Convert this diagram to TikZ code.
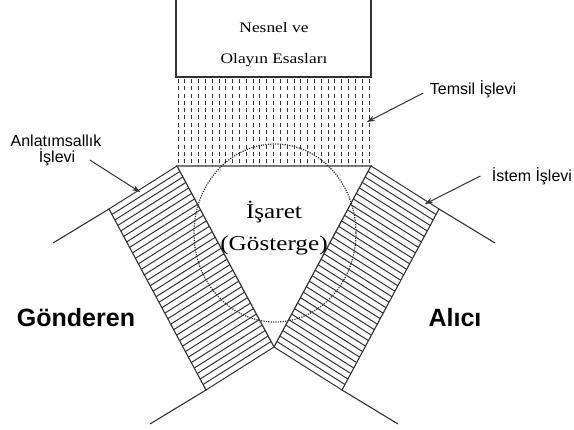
\documentclass[tikz,border=0pt]{standalone}
\usepackage{fontspec}
\setmainfont{Liberation Serif}
\setsansfont{Liberation Sans}
\newfontfamily\wideserif[FakeStretch=1.2]{Liberation Serif}
\usetikzlibrary{calc,arrows.meta}
\definecolor{inkgray}{rgb}{0.2, 0.2, 0.2}

\begin{document}
\begin{tikzpicture}[x=1pt, y=-1pt, line width=1.1pt, color=inkgray,
    hatch/.style={line width=1pt},
    pointer/.style={line width=1pt, -{Stealth[length=8pt, width=5.5pt]}},
    objtext/.style={font=\wideserif\fontsize{14.5}{14.5}\selectfont, text=black},
    signtext/.style={font=\wideserif\fontsize{21}{21}\selectfont, text=black},
    roletext/.style={font=\sffamily\bfseries\fontsize{25}{25}\selectfont, text=black},
    functext/.style={font=\sffamily\fontsize{16}{16}\selectfont, text=black, inner sep=0pt}]
  \useasboundingbox (0,0) rectangle (574,430);

  \coordinate (A) at (177,166);
  \coordinate (B) at (371,166);
  \coordinate (C) at (274,347);
  \coordinate (D) at ($(A)+(-68,43)$);
  \coordinate (E) at ($(C)+(-68,43)$);
  \coordinate (F) at ($(B)+(68,43)$);
  \coordinate (G) at ($(C)+(68,43)$);

  \draw (176,0) -- (176,77) -- (371,77) -- (371,0);
  \foreach \i in {0,...,28}
    \draw[dash pattern=on 4pt off 3.3pt, line width=0.8pt] ($(178,79)!\i/28!(369,79)$) -- ++(0,86);

  \foreach \i in {0,...,33} {
    \draw[hatch] ($(A)!\i/33!(C)$) -- ($(D)!\i/33!(E)$);
    \draw[hatch] ($(B)!\i/33!(C)$) -- ($(F)!\i/33!(G)$);
  }
  \draw ($(D)+(-56,34)$) -- (D) -- (E) -- ($(E)+(-56,34)$);
  \draw ($(F)+(56,34)$) -- (F) -- (G) -- ($(G)+(56,34)$);
  \draw[line width=1.2pt] (A) -- (B) -- (C) -- cycle;
  \draw[line width=1.2pt, dash pattern=on 1.2pt off 1.2pt] (275,233) ellipse [x radius=81, y radius=89];

  \node[objtext] (obj1) at (274,28) {Nesnel ve};
  \node[objtext] (obj2) at (274,60) {Olayın Esasları};
  \node[signtext] (sign1) at (274,212) {İşaret};
  \node[signtext] (sign2) at (274,245) {(Gösterge)};
  \node[roletext] (snd) at (76,318) {Gönderen};
  \node[roletext] (rcv) at (455,318) {Alıcı};

  \node[functext] (rep) at (473,89) {Temsil İşlevi};
  \node[functext] (exp1) at (56,141) {Anlatımsallık};
  \node[functext] (exp2) at (57,157) {İşlevi};
  \node[functext] (app) at (532,176) {İstem İşlevi};

  \coordinate (repTip) at (367,122);
  \coordinate (expTip) at (140,192);
  \coordinate (appTip) at (425,204);
  \draw[pointer] ([shift={(-6,4)}]rep.west) -- (repTip);
  \draw[pointer] ([shift={(14,3)}]exp2.east) -- (expTip);
  \draw[pointer] ([xshift=-11pt]app.west) -- (appTip);
\end{tikzpicture}
\end{document}
